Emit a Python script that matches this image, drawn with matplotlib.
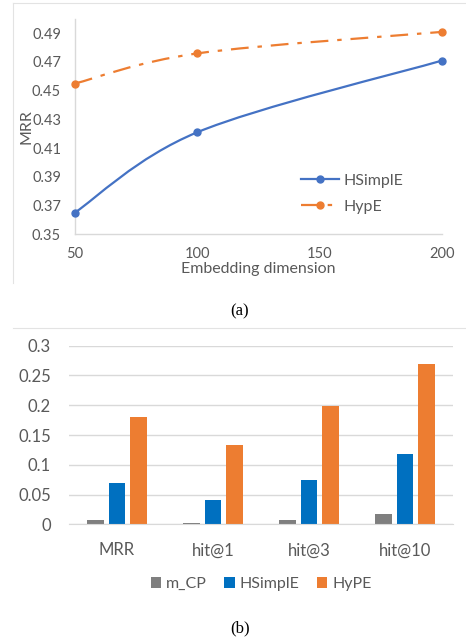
import matplotlib
matplotlib.use("Agg")
import matplotlib.pyplot as plt
from matplotlib.path import Path
from matplotlib.patches import PathPatch
from matplotlib.lines import Line2D
import numpy as np

# ---- data ----
dims = [50, 100, 200]
mrr_hsimple = [0.365, 0.421, 0.471]
mrr_hype = [0.455, 0.476, 0.491]

metrics = ["MRR", "hit@1", "hit@3", "hit@10"]
vals_mcp = [0.007, 0.002, 0.007, 0.018]
vals_hsimple = [0.069, 0.040, 0.075, 0.118]
vals_hype = [0.181, 0.133, 0.199, 0.269]

BLUE_L = "#4472C4"
ORANGE = "#ED7D31"
BLUE_B = "#0070C0"
GRAY = "#7F7F7F"
TXT = "#595959"
AX = "#D9D9D9"

plt.rcParams['font.family'] = ['Lato', 'DejaVu Sans']

fig = plt.figure(figsize=(4.66, 6.39), dpi=100)

# frames
fig.add_artist(Line2D([13/466, 1.0], [1-3/639, 1-3/639], color="#E3E3E3", lw=0.8))
fig.add_artist(Line2D([13/466, 13/466], [1-3/639, 1-283/639], color="#E3E3E3", lw=0.8))
fig.add_artist(Line2D([13/466, 1.0], [1-328/639, 1-328/639], color="#E3E3E3", lw=0.8))


def smooth_path(xs, ys):
    pts = np.column_stack([xs, ys]).astype(float)
    n = len(pts)
    verts = [pts[0]]
    codes = [Path.MOVETO]
    for i in range(n - 1):
        p0 = pts[i - 1] if i > 0 else pts[i]
        p1 = pts[i]
        p2 = pts[i + 1]
        p3 = pts[i + 2] if i + 2 < n else pts[i + 1]
        c1 = p1 + (p2 - p0) / 6.0
        c2 = p2 - (p3 - p1) / 6.0
        verts += [c1, c2, p2]
        codes += [Path.CURVE4] * 3
    return Path(verts, codes)


# ---- (a) ----
ax1 = fig.add_axes([75/466, 1-234/639, (442-75)/466, (234-19)/639])
ax1.set_xlim(50, 200)
ax1.set_ylim(0.35, 0.5)
DASH = (0, (8, 4, 2, 4))
for name, ys, col, ls in [("HSimplE", mrr_hsimple, BLUE_L, "-"),
                          ("HypE", mrr_hype, ORANGE, DASH)]:
    patch = PathPatch(smooth_path(dims, ys), facecolor="none", edgecolor=col,
                      lw=1.6, linestyle=ls, clip_on=False)
    ax1.add_patch(patch)
    ax1.plot(dims, ys, "o", color=col, markersize=5, clip_on=False, zorder=3)

handles = [Line2D([], [], color=BLUE_L, lw=1.6, marker="o", markersize=5, linestyle="-"),
           Line2D([], [], color=ORANGE, lw=1.6, marker="o", markersize=5, linestyle=DASH)]
ax1.legend(handles, ["HSimplE", "HypE"], loc="lower right", bbox_to_anchor=(0.935, 0.027),
           frameon=False, fontsize=11.5, labelcolor=TXT, handlelength=2.4,
           handletextpad=0.3, labelspacing=0.75)
ax1.set_xticks([50, 100, 150, 200])
yt1 = np.arange(0.35, 0.4901, 0.02)
ax1.set_yticks(yt1)
ax1.set_yticklabels([f"{v:.2f}" for v in yt1])
ax1.tick_params(length=0, labelsize=10.5, colors=TXT, pad=10)
ax1.tick_params(axis="x", pad=9)
for s in ["top", "right"]:
    ax1.spines[s].set_visible(False)
for s in ["left", "bottom"]:
    ax1.spines[s].set_color(AX)
    ax1.spines[s].set_linewidth(1.0)
ax1.set_xlabel("Embedding dimension", fontsize=11.5, color=TXT, labelpad=1)
ax1.set_ylabel("MRR", fontsize=11.5, color=TXT)
ax1.yaxis.set_label_coords((34-75)/367, 0.5)

fig.text(240/466, 1-311/639, "(a)", ha="center", va="center",
         fontsize=12, family=["Liberation Serif"], color="black")

# ---- (b) ----
ax2 = fig.add_axes([69/466, 1-524.3/639, (453-69)/466, (524.3-345.7)/639])
x = np.arange(len(metrics))
step = 0.219
w = 0.177
ax2.bar(x - step, vals_mcp, w, color=GRAY, label="m_CP", zorder=2)
ax2.bar(x, vals_hsimple, w, color=BLUE_B, label="HSimplE", zorder=2)
ax2.bar(x + step, vals_hype, w, color=ORANGE, label="HyPE", zorder=2)
ax2.set_xlim(-0.5, len(metrics) - 0.5)
ax2.set_ylim(0, 0.3)
yt = [0, 0.05, 0.1, 0.15, 0.2, 0.25, 0.3]
ax2.set_yticks(yt)
ax2.set_yticklabels(["0", "0.05", "0.1", "0.15", "0.2", "0.25", "0.3"])
ax2.set_xticks(x)
ax2.set_xticklabels(metrics)
ax2.grid(axis="y", color=AX, lw=1.0, zorder=0)
ax2.tick_params(length=0, labelsize=12, colors=TXT)
ax2.tick_params(axis="y", pad=13)
ax2.tick_params(axis="x", pad=13)
for s in ["top", "right", "left"]:
    ax2.spines[s].set_visible(False)
ax2.spines["bottom"].set_color(AX)
ax2.legend(loc="upper center", bbox_to_anchor=(0.5, -0.215), ncol=3, frameon=False,
           fontsize=11.5, labelcolor=TXT, handlelength=0.65, handleheight=0.65,
           handletextpad=0.3, columnspacing=1.1)

fig.text(240/466, 1-628/639, "(b)", ha="center", va="center",
         fontsize=12, family=["Liberation Serif"], color="black")

fig.savefig("out.png", dpi=100)
